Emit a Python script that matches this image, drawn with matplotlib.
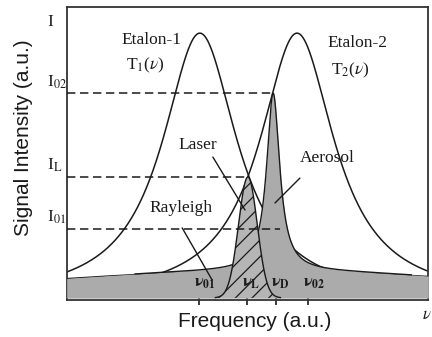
import numpy as np
import matplotlib.pyplot as plt

plt.rcParams['font.family'] = 'Liberation Serif'
plt.rcParams['mathtext.fontset'] = 'stix'
plt.rcParams['hatch.linewidth'] = 0.9

# frequency axis (a.u.)
freq = np.linspace(0, 100, 3001)

# etalon transmission functions T1, T2 (Lorentzian: centre, half width, peak)
etalon_centres = [36.8, 63.7]
etalon_width = 12.6
etalon_peak = 0.911

# broad Rayleigh background
rayleigh_centre = 54.8
rayleigh_sigma = 67.0
rayleigh_peak = 0.099
band_base = 0.007

# laser line
laser_centre = 50.1
laser_sigma = 2.6

# aerosol (Mie) line
aerosol_centre = 57.1
aerosol_width = 2.2

# intensity levels on the left
I_02 = 0.706
I_L = 0.42
I_01 = 0.242
level_values = [etalon_peak, I_02, I_L, I_01]
level_labels = [r'I', r'I$_{\mathrm{02}}$', r'I$_{\mathrm{L}}$', r'I$_{\mathrm{01}}$']
# where each dashed level line stops
level_ends = [aerosol_centre, laser_centre, 59.0]

# frequency markers along the bottom
nu_ticks = [36.6, 49.9, 57.9, 66.8]
nu_subs = ['01', 'L', 'D', '02']


def lorentz(x, c, w):
    return 1.0 / (1.0 + ((x - c) / w) ** 2)


rayleigh = band_base + (rayleigh_peak - band_base) * np.exp(
    -(freq - rayleigh_centre) ** 2 / (2 * rayleigh_sigma ** 2))
r_at_aer = band_base + (rayleigh_peak - band_base) * np.exp(
    -(aerosol_centre - rayleigh_centre) ** 2 / (2 * rayleigh_sigma ** 2))
aerosol = rayleigh + (I_02 - r_at_aer) * lorentz(freq, aerosol_centre, aerosol_width)
laser = band_base + (I_L - band_base) * np.exp(-(freq - laser_centre) ** 2 / (2 * laser_sigma ** 2))

ink = '#1a1a1a'
grey = '#ababab'

fig = plt.figure(figsize=(4.32, 3.37), dpi=100)
ax = fig.add_axes([0.155, 0.110, 0.836, 0.869])
ax.set_xlim(0, 100)
ax.set_ylim(0, 1)

# etalon curves
for c in etalon_centres:
    ax.plot(freq, etalon_peak * lorentz(freq, c, etalon_width), color=ink, lw=1.1, zorder=2)

# Rayleigh band
ax.fill_between(freq, band_base, rayleigh, color=grey, lw=0, zorder=3)
ax.plot(freq, rayleigh, color=ink, lw=1.0, zorder=3)

# aerosol peak on top of the band
ax.fill_between(freq, band_base, aerosol, where=aerosol > rayleigh + 1e-4,
                color=grey, lw=0, zorder=4)
ax.plot(freq, np.where(aerosol > rayleigh + 2e-3, aerosol, np.nan), color=ink, lw=1.0, zorder=4)

# hatched laser line
lm = laser > band_base + 1e-3
ax.fill_between(freq[lm], band_base, laser[lm], facecolor='#b5b5b5', edgecolor=ink,
                hatch='//', lw=0, zorder=5)
ax.plot(freq[lm], laser[lm], color=ink, lw=1.0, zorder=5)

# dashed intensity levels
for v, e in zip(level_values[1:], level_ends):
    ax.plot([0, e], [v, v], color=ink, lw=1.1, dashes=(5.5, 3), zorder=6)

ytr = ax.get_yaxis_transform()
for v, lab in zip(level_values, level_labels):
    ax.text(-0.055, v + 0.024, lab, transform=ytr, ha='left', va='baseline',
            fontsize=12.5, color=ink)

# curve names
ax.text(23.5, 0.887, 'Etalon-1', ha='center', va='center', fontsize=12.5, color=ink)
ax.text(21.6, 0.802, r'T$_{\mathrm{1}}$($\nu$)', ha='center', va='center', fontsize=12.5, color=ink)
ax.text(80.3, 0.877, 'Etalon-2', ha='center', va='center', fontsize=12.5, color=ink)
ax.text(78.4, 0.785, r'T$_{\mathrm{2}}$($\nu$)', ha='center', va='center', fontsize=12.5, color=ink)

arrow = dict(arrowstyle='-', color=ink, lw=1.0, shrinkA=0, shrinkB=0)
ax.text(36.3, 0.529, 'Laser', ha='center', va='center', fontsize=12.5, color=ink, zorder=7)
ax.annotate('', xy=(49.3, 0.307), xytext=(40.4, 0.488), arrowprops=arrow, zorder=7)
ax.text(72.0, 0.485, 'Aerosol', ha='center', va='center', fontsize=12.5, color=ink, zorder=7)
ax.annotate('', xy=(57.6, 0.331), xytext=(64.5, 0.416), arrowprops=arrow, zorder=7)
ax.text(31.6, 0.314, 'Rayleigh', ha='center', va='center', fontsize=12.5, color=ink, zorder=7)
ax.annotate('', xy=(40.2, 0.068), xytext=(31.9, 0.246), arrowprops=arrow, zorder=7)

# frequency labels inside the band
for t, s in zip(nu_ticks, nu_subs):
    ax.annotate(r'$\mathbf{\nu}_{\mathbf{%s}}$' % s, xy=(t, 0.044), xytext=(-3.5, 0),
                textcoords='offset points', ha='left', va='baseline',
                fontsize=12, color=ink, zorder=7)

ax.set_xticks(nu_ticks)
ax.set_xticklabels([])
ax.set_yticks([])
ax.tick_params(axis='x', direction='inout', length=7, width=1.2, color=ink)
for sp in ax.spines.values():
    sp.set_linewidth(1.3)
    sp.set_color('#333333')

ax.set_xlabel('Frequency (a.u.)', fontsize=15, family='Liberation Sans', color=ink)
ax.set_ylabel('Signal Intensity (a.u.)', fontsize=15, family='Liberation Sans', color=ink)
ax.xaxis.set_label_coords(0.521, -0.041)
ax.yaxis.set_label_coords(-0.093, 0.553)
ax.text(0.997, -0.05, r'$\nu$', transform=ax.transAxes, ha='center', va='center',
        fontsize=12, style='italic', color=ink)

fig.savefig('out.png', dpi=100)
